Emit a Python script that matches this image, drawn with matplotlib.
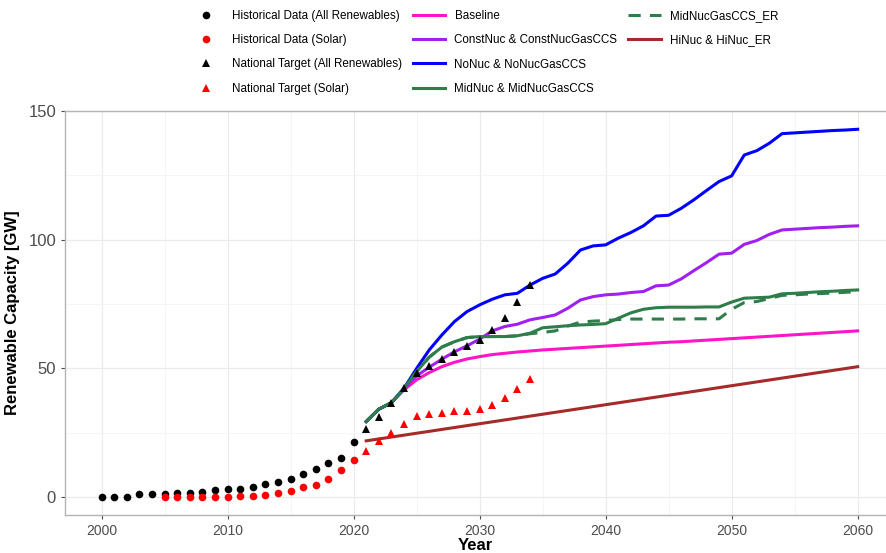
import matplotlib.pyplot as plt
from matplotlib.lines import Line2D

plt.rcParams['font.family'] = ['Liberation Sans', 'DejaVu Sans']

# historical data
hist_years = list(range(2000, 2021))
hist_all = [0, 0, 0, 1.4, 1.4, 1.4, 1.6, 1.6, 2.2, 2.7, 3.1, 3.3, 4.0, 5.0,
            6.1, 7.1, 8.9, 10.8, 13.3, 15.4, 21.3]
solar_years = list(range(2005, 2021))
hist_solar = [0, 0, 0, 0, 0, 0.1, 0.4, 0.5, 0.8, 1.7, 2.5, 4.0, 4.8, 7.0,
              10.4, 14.4]

# national targets
target_years = list(range(2021, 2035))
target_all = [26.4, 31.3, 36.7, 42.3, 48.4, 51.1, 53.7, 56.3, 58.6, 61.1,
              65.0, 69.7, 76.0, 82.4]
target_solar = [18.0, 21.7, 25.1, 28.3, 31.7, 32.3, 32.6, 33.3, 33.6, 34.2,
                35.8, 38.6, 42.2, 45.8]

# scenarios
years = list(range(2021, 2061))
baseline = [29.4, 34.2, 36.7, 41.7, 45.6, 48.4, 50.7, 52.4, 53.7, 54.6,
            55.4, 55.9, 56.4, 56.8, 57.2, 57.5, 57.8, 58.1, 58.4, 58.7,
            59.0, 59.3, 59.6, 59.9, 60.2, 60.4, 60.7, 61.0, 61.3, 61.6,
            61.9, 62.2, 62.5, 62.8, 63.1, 63.4, 63.7, 64.0, 64.3, 64.6]
constnuc = [29.4, 34.2, 36.7, 42.3, 47.1, 50.5, 53.6, 56.5, 58.8, 61.4,
            64.6, 66.3, 67.2, 68.9, 69.8, 70.8, 73.4, 76.6, 77.9, 78.6,
            78.9, 79.5, 79.9, 82.1, 82.4, 84.8, 88.0, 91.1, 94.4, 94.8,
            98.2, 99.7, 102.1, 103.8, 104.1, 104.4, 104.7, 104.9, 105.2, 105.4]
nonuc = [29.4, 34.2, 36.7, 42.3, 50.0, 57.2, 63.0, 68.2, 72.1, 74.7,
         76.9, 78.6, 79.2, 82.4, 85.0, 86.7, 90.9, 96.0, 97.6, 98.0,
         100.6, 102.8, 105.4, 109.2, 109.5, 112.2, 115.5, 119.1, 122.6, 124.8,
         132.9, 134.6, 137.5, 141.2, 141.5, 141.8, 142.1, 142.4, 142.6, 142.9]
midnuc = [29.4, 34.2, 36.7, 42.3, 48.8, 54.4, 58.3, 60.4, 62.0, 62.4,
          62.4, 62.4, 62.7, 63.7, 65.8, 66.2, 66.6, 66.9, 67.1, 67.4,
          69.5, 71.6, 73.0, 73.6, 73.8, 73.8, 73.8, 73.9, 73.9, 75.8,
          77.3, 77.5, 77.7, 79.0, 79.2, 79.5, 79.8, 80.0, 80.3, 80.5]
midnuc_er = [29.4, 34.2, 36.7, 42.3, 48.8, 54.4, 58.3, 60.4, 62.0, 62.4,
             62.4, 62.4, 62.7, 63.5, 64.0, 64.6, 66.5, 68.0, 68.4, 68.6,
             69.0, 69.2, 69.2, 69.2, 69.2, 69.2, 69.3, 69.3, 69.3, 73.0,
             75.6, 76.0, 77.2, 78.4, 78.6, 78.9, 79.1, 79.3, 79.6, 79.8]
hinuc_years = [2021, 2060]
hinuc = [21.9, 50.7]

fig = plt.figure(figsize=(8.86, 5.53), dpi=100)
ax = fig.add_axes([0.0734, 0.0687, 0.9266, 0.7306])

lw = 2.2
ax.plot(years, baseline, color='#ff14c8', lw=lw)
ax.plot(years, constnuc, color='#a020f0', lw=lw)
ax.plot(years, nonuc, color='#0000ff', lw=lw)
ax.plot(years, midnuc, color='#2e7d4a', lw=lw)
ax.plot(years, midnuc_er, color='#2e7d4a', lw=lw, dashes=(4, 3))
ax.plot(hinuc_years, hinuc, color='#a52a2a', lw=lw)

ax.plot(hist_years, hist_all, 'o', color='black', ms=5.5, mew=0)
ax.plot(solar_years, hist_solar, 'o', color='red', ms=5.5, mew=0)
ax.plot(target_years, target_all, '^', color='black', ms=5.5, mew=0)
ax.plot(target_years, target_solar, '^', color='red', ms=5.5, mew=0)

ax.set_xlim(1997.1, 2062.25)
ax.set_ylim(-6.9, 150)
ax.set_xticks(range(2000, 2061, 10))
ax.set_xticks(range(2005, 2060, 10), minor=True)
ax.set_yticks([0, 50, 100, 150])
ax.set_yticks([25, 75, 125], minor=True)
ax.grid(which='major', color='#ebebeb', lw=0.9)
ax.grid(which='minor', color='#f2f2f2', lw=0.5)
ax.set_axisbelow(True)
ax.tick_params(axis='x', which='major', labelsize=10, colors='#4d4d4d', length=3, width=0.8)
ax.tick_params(axis='y', which='major', labelsize=12, colors='#4d4d4d', length=3, width=0.8)
ax.tick_params(which='minor', length=0)
for s in ['left', 'bottom', 'top']:
    ax.spines[s].set_color('#b3b3b3')
    ax.spines[s].set_linewidth(1.0)
ax.spines['right'].set_visible(False)
ax.set_xlabel('Year', fontsize=12, fontweight='bold', labelpad=0)
ax.set_ylabel('Renewable Capacity [GW]', fontsize=12, fontweight='bold', labelpad=6)

blank = Line2D([], [], linestyle='none')
handles = [
    Line2D([], [], marker='o', color='black', linestyle='none', ms=5.5, mew=0),
    Line2D([], [], marker='o', color='red', linestyle='none', ms=5.5, mew=0),
    Line2D([], [], marker='^', color='black', linestyle='none', ms=5.5, mew=0),
    Line2D([], [], marker='^', color='red', linestyle='none', ms=5.5, mew=0),
    Line2D([], [], color='#ff14c8', lw=lw),
    Line2D([], [], color='#a020f0', lw=lw),
    Line2D([], [], color='#0000ff', lw=lw),
    Line2D([], [], color='#2e7d4a', lw=lw),
    Line2D([], [], color='#2e7d4a', lw=lw, dashes=(4, 3)),
    Line2D([], [], color='#a52a2a', lw=lw),
    blank, blank,
]
labels = ['Historical Data (All Renewables)', 'Historical Data (Solar)',
          'National Target (All Renewables)', 'National Target (Solar)',
          'Baseline', 'ConstNuc & ConstNucGasCCS', 'NoNuc & NoNucGasCCS',
          'MidNuc & MidNucGasCCS', 'MidNucGasCCS_ER', 'HiNuc & HiNuc_ER', '', '']
fig.legend(handles, labels, loc='upper left', bbox_to_anchor=(190 / 886, 1 - 10 / 553),
           ncol=3, frameon=False, fontsize=8.4, handlelength=2.8, handletextpad=0.8,
           columnspacing=0.9, labelspacing=1.05, borderaxespad=0, borderpad=0)

plt.savefig('out.png', dpi=100)
